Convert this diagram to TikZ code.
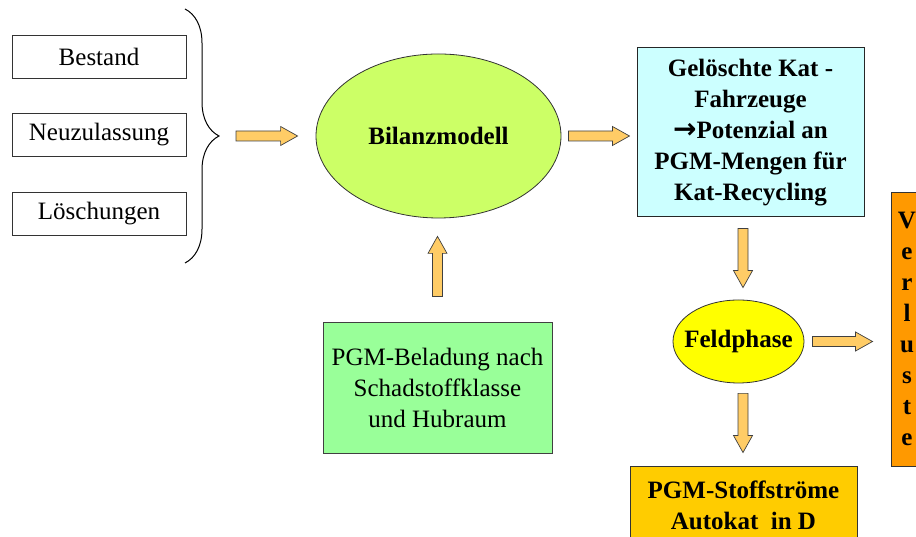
\documentclass[tikz,border=0pt]{standalone}
\usepackage{fontspec}
\setmainfont{Liberation Serif}
\newfontfamily\arrowfont{DejaVu Sans}
\usetikzlibrary{calc,shapes.geometric,decorations.pathreplacing}

% --- Colors ---
\definecolor{katcyan}{RGB}{204,255,255}
\definecolor{belgreen}{RGB}{153,255,153}
\definecolor{modgreen}{RGB}{204,255,102}
\definecolor{feldyellow}{RGB}{255,255,0}
\definecolor{stoffgold}{RGB}{255,204,0}
\definecolor{verlorange}{RGB}{255,153,0}
\definecolor{arrowfill}{RGB}{255,204,102}

\tikzset{
  txt/.style={font=\fontsize{25}{31}\selectfont, align=center, inner sep=0pt},
  btxt/.style={font=\fontsize{25}{31}\selectfont\bfseries, align=center, inner sep=0pt},
  inbox/.style={txt, draw=black!80, line width=0.9pt, minimum width=174pt, minimum height=43pt},
  fatarrow/.style={draw=black!75, fill=arrowfill, line width=0.7pt, line join=miter,
    to path={let \p1=(\tikztostart), \p2=(\tikztotarget),
      \n1={atan2(\y2-\y1,\x2-\x1)}, \n2={veclen(\x2-\x1,\y2-\y1)} in
      {[shift={(\p1)}, rotate=\n1]
        (0,-5) -- ({\n2-17},-5) -- ({\n2-17},-9.5) -- (\n2,0)
        -- ({\n2-17},9.5) -- ({\n2-17},5) -- (0,5) -- cycle}}}
}

\begin{document}
\begin{tikzpicture}[x=1pt, y=1pt]
\useasboundingbox (0,0) rectangle (916,537);
\clip (0,0) rectangle (916,537);

% --- Inputs ---
\node[inbox] (bestand) at (99,480.5) {Bestand};
\node[inbox] (neu)     at (99,402.5) {Neuzulassung};
\node[inbox] (loesch)  at (99,323.5) {Löschungen};

\draw[line width=1pt, decorate, decoration={brace, amplitude=34pt}]
  (185,528) -- (185,274);
\coordinate (bt) at (219,401);

% --- Model ---
\node[btxt, ellipse, draw=black!80, line width=0.8pt, fill=modgreen,
  minimum width=245pt, minimum height=164pt] (modell) at (438.5,401) {Bilanzmodell};

\node[txt, draw=black!75, line width=0.9pt, fill=belgreen,
  minimum width=229pt, minimum height=131pt] (belad) at (437.5,149.5)
  {PGM-Beladung nach\\Schadstoffklasse\\und Hubraum};

% --- Right column ---
\node[btxt, draw=black!85, line width=1pt, fill=katcyan,
  minimum width=227pt, minimum height=169pt] (kat) at (750.5,404.5)
  {Gelöschte Kat -\\Fahrzeuge\\{\arrowfont\bfseries\fontsize{28}{31}\selectfont →}Potenzial an\\PGM-Mengen für\\Kat-Recycling};

\node[btxt, ellipse, draw=black!80, line width=0.8pt, fill=feldyellow,
  inner xsep=-12pt, inner ysep=-4pt,
  minimum width=131pt, minimum height=83pt] (feld) at (738.5,195.5) {Feldphase};

\node[btxt, draw=black!80, line width=0.9pt, fill=stoffgold,
  minimum width=227pt, minimum height=79pt] (stoff) at (743.5,31.5)
  {PGM-Stoffströme\\Autokat\ \ in D};

\node[btxt, draw=black!80, line width=0.9pt, fill=verlorange,
  minimum width=32pt, minimum height=274pt] (verl) at (907,208)
  {V\\e\\r\\l\\u\\s\\t\\e};

% --- Block arrows ---
\draw[fatarrow] ($(bt)+(17,0)$) to ($(modell.west)+(-18,0)$);
\draw[fatarrow] ($(modell.east)+(7,0)$) to ($(modell.east -| kat.west)+(-7,0)$);
\draw[fatarrow] ($(belad.north)+(0,25)$) to ($(belad.north |- modell.south)+(0,-18)$);
\draw[fatarrow] ($(kat.south)+(-7.5,-11)$) to ($(feld.north)+(4.5,12)$);
\draw[fatarrow] ($(feld.south)+(4.5,-10)$) to ($(stoff.north)+(-0.5,13)$);
\draw[fatarrow] ($(feld.east)+(8,0)$) to ($(feld.east -| verl.west)+(-18,0)$);
\end{tikzpicture}
\end{document}
